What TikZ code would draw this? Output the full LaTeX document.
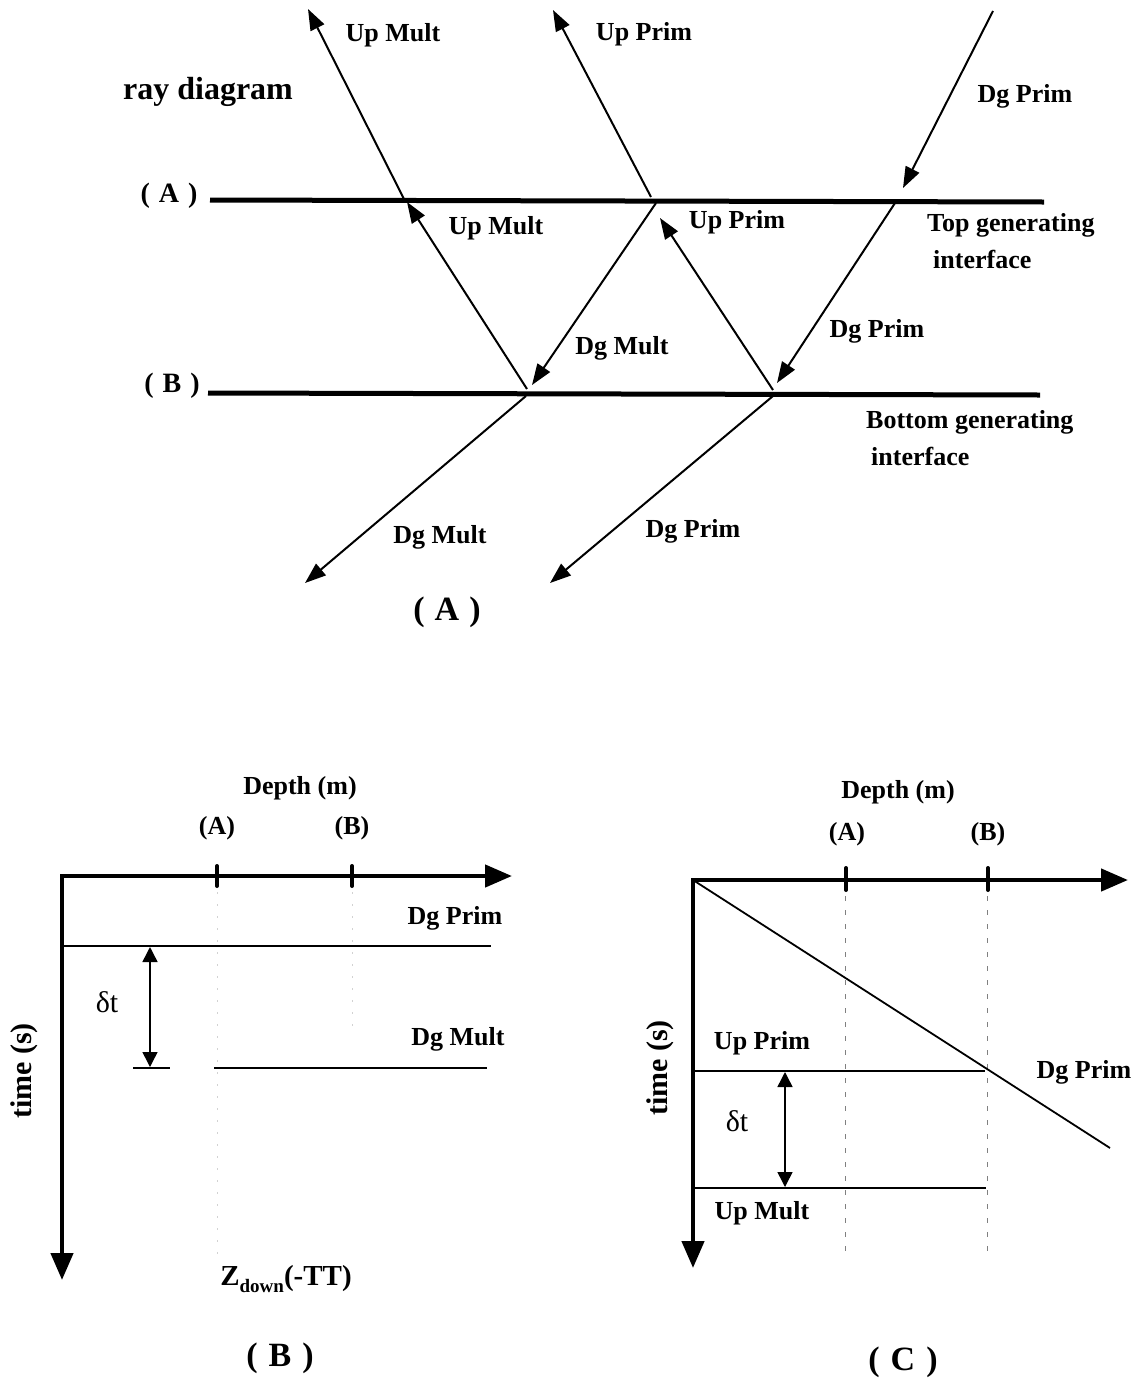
\documentclass[tikz,border=0pt]{standalone}
\usepackage{fontspec}
\setmainfont{Liberation Serif}
\usetikzlibrary{arrows.meta}
\begin{document}
\begin{tikzpicture}[x=1pt,y=-1pt,
  lbl/.style={font=\bfseries\fontsize{26}{30}\selectfont, inner sep=0pt},
  sidelbl/.style={font=\bfseries\fontsize{28}{32}\selectfont, inner sep=0pt},
  big/.style={font=\bfseries\fontsize{34}{38}\selectfont, inner sep=0pt},
  dtlbl/.style={font=\fontsize{30}{34}\selectfont, inner sep=0pt},
  ray/.style={line width=2pt,-{Triangle[length=21pt,width=15pt]}},
  iface/.style={line width=5pt},
  axis/.style={line width=4.5pt,{Triangle[length=27pt,width=22pt]}-{Triangle[length=27pt,width=22pt]}},
  tline/.style={line width=1.8pt},
  dtarrow/.style={line width=1.5pt,{Triangle[length=15pt,width=15pt]}-{Triangle[length=15pt,width=15pt]}},
  tickmark/.style={line width=4pt, line cap=round},
  guide/.style={line width=1pt, gray, dash pattern=on 5pt off 9pt},
  faint/.style={line width=1pt, gray!35, dash pattern=on 2pt off 10pt}]
\useasboundingbox (0,0) rectangle (1139,1382);

% ================= Panel A : ray diagram =================
\node[font=\bfseries\fontsize{32}{36}\selectfont, inner sep=0pt] (title) at (208,92) {ray diagram};
\node[sidelbl] (labA) at (169,196) {(\hspace{9pt}A\hspace{9pt})};
\node[sidelbl] (labB) at (172,386) {(\hspace{9pt}B\hspace{9pt})};

\coordinate (a1) at (210,200); \coordinate (a2) at (1044,202);
\coordinate (b1) at (208,393); \coordinate (b2) at (1040,395);
\draw[iface] (a1) -- (a2);
\draw[iface] (b1) -- (b2);

% rays above interface A
\coordinate (umA) at (404,199);  \coordinate (umTip) at (308,9);
\coordinate (upA) at (651,197);  \coordinate (upTip) at (553,10);
\coordinate (dpTop) at (993,11); \coordinate (dpA) at (903,188);
\draw[ray] (umA) -- (umTip);
\draw[ray] (upA) -- (upTip);
\draw[ray] (dpTop) -- (dpA);

% rays between A and B
\coordinate (umB) at (527,389);  \coordinate (umAtip) at (407,202);
\coordinate (dmA) at (656,203);  \coordinate (dmBtip) at (532,385);
\coordinate (upB) at (773,390);  \coordinate (upAtip) at (660,218);
\coordinate (dpA2) at (895,203); \coordinate (dpBtip) at (777,383);
\draw[ray] (umB) -- (umAtip);
\draw[ray] (dmA) -- (dmBtip);
\draw[ray] (upB) -- (upAtip);
\draw[ray] (dpA2) -- (dpBtip);

% rays below B
\coordinate (dmB) at (526,396); \coordinate (dmTip) at (305,583);
\coordinate (dpB) at (773,396); \coordinate (dpTip) at (550,583);
\draw[ray] (dmB) -- (dmTip);
\draw[ray] (dpB) -- (dpTip);

\node[lbl] (lumt) at (393,35) {Up Mult};
\node[lbl] (lupt) at (644,34) {Up Prim};
\node[lbl] (ldpt) at (1025,96) {Dg Prim};
\node[lbl] (lumm) at (496,228) {Up Mult};
\node[lbl] (lupm) at (737,222) {Up Prim};
\node[lbl] (ldmm) at (622,348) {Dg Mult};
\node[lbl] (ldpm) at (877,331) {Dg Prim};
\node[lbl, anchor=west] (ltop1) at (927,225) {Top generating};
\node[lbl, anchor=west] (ltop2) at (933,259) {interface};
\node[lbl, anchor=west] (lbot1) at (866,422) {Bottom generating};
\node[lbl, anchor=west] (lbot2) at (871,456) {interface};
\node[lbl] (ldmb) at (440,537) {Dg Mult};
\node[lbl] (ldpb) at (693,531) {Dg Prim};
\node[big] (capA) at (447,612) {(\hspace{10pt}A\hspace{10pt})};

% ================= Panel B =================
\coordinate (oB) at (62,876); \coordinate (xB) at (512,876); \coordinate (yB) at (62,1280);
\draw[axis] (yB) -- (oB) -- (xB);
\coordinate (tBa1) at (217,866); \coordinate (tBa2) at (217,886);
\coordinate (tBb1) at (352,866); \coordinate (tBb2) at (352,886);
\draw[tickmark] (tBa1) -- (tBa2);
\draw[tickmark] (tBb1) -- (tBb2);
\coordinate (gBa1) at (217,892); \coordinate (gBa2) at (217,1255);
\coordinate (gBb1) at (352,892); \coordinate (gBb2) at (352,1030);
\draw[faint] (gBa1) -- (gBa2);
\draw[faint] (gBb1) -- (gBb2);

\coordinate (dpB1) at (62,946);  \coordinate (dpB2) at (491,946);
\coordinate (dmB1) at (214,1068); \coordinate (dmB2) at (487,1068);
\draw[tline] (dpB1) -- (dpB2);
\draw[tline] (dmB1) -- (dmB2);
\coordinate (dtB1) at (150,947); \coordinate (dtB2) at (150,1067);
\draw[dtarrow] (dtB1) -- (dtB2);
\coordinate (barB1) at (133,1068); \coordinate (barB2) at (170,1068);
\draw[tline] (barB1) -- (barB2);

\node[lbl] (depthB) at (300,788) {Depth (m)};
\node[lbl] (tkAB) at (217,828) {(A)};
\node[lbl] (tkBB) at (352,828) {(B)};
\node[lbl] (ldpB) at (455,918) {Dg Prim};
\node[lbl] (ldmB) at (458,1039) {Dg Mult};
\node[dtlbl] (dtlB) at (107,1002) {δt};
\node[font=\bfseries\fontsize{30}{34}\selectfont, inner sep=0pt, rotate=90] (timeB) at (24,1071) {time (s)};
\node[font=\bfseries\fontsize{29}{34}\selectfont, inner sep=0pt] (zdown) at (286,1279) {Z\raisebox{-7pt}{\fontsize{19}{20}\selectfont down}(-TT)};
\node[big] (capB) at (280,1358) {(\hspace{11pt}B\hspace{11pt})};

% ================= Panel C =================
\coordinate (oC) at (693,880); \coordinate (xC) at (1128,880); \coordinate (yC) at (693,1268);
\draw[axis] (yC) -- (oC) -- (xC);
\coordinate (tCa1) at (846,868); \coordinate (tCa2) at (846,890);
\coordinate (tCb1) at (988,868); \coordinate (tCb2) at (988,890);
\draw[tickmark] (tCa1) -- (tCa2);
\draw[tickmark] (tCb1) -- (tCb2);
\coordinate (gCa1) at (845,896); \coordinate (gCa2) at (845,1255);
\coordinate (gCb1) at (987,896); \coordinate (gCb2) at (987,1255);
\draw[guide] (gCa1) -- (gCa2);
\draw[guide] (gCb1) -- (gCb2);

\coordinate (dgC) at (1110,1148);
\draw[tline] (oC) -- (dgC);
\coordinate (upC1) at (693,1071); \coordinate (upC2) at (985,1071);
\coordinate (umC1) at (693,1188); \coordinate (umC2) at (986,1188);
\draw[tline] (upC1) -- (upC2);
\draw[tline] (umC1) -- (umC2);
\coordinate (dtC1) at (785,1072); \coordinate (dtC2) at (785,1187);
\draw[dtarrow] (dtC1) -- (dtC2);

\node[lbl] (depthC) at (898,792) {Depth (m)};
\node[lbl] (tkAC) at (847,834) {(A)};
\node[lbl] (tkBC) at (988,834) {(B)};
\node[lbl] (lupC) at (762,1043) {Up Prim};
\node[lbl] (lumC) at (762,1213) {Up Mult};
\node[lbl] (ldpC) at (1084,1072) {Dg Prim};
\node[dtlbl] (dtlC) at (737,1121) {δt};
\node[font=\bfseries\fontsize{30}{34}\selectfont, inner sep=0pt, rotate=90] (timeC) at (660,1068) {time (s)};
\node[big] (capC) at (903,1362) {(\hspace{11pt}C\hspace{11pt})};
\end{tikzpicture}
\end{document}
